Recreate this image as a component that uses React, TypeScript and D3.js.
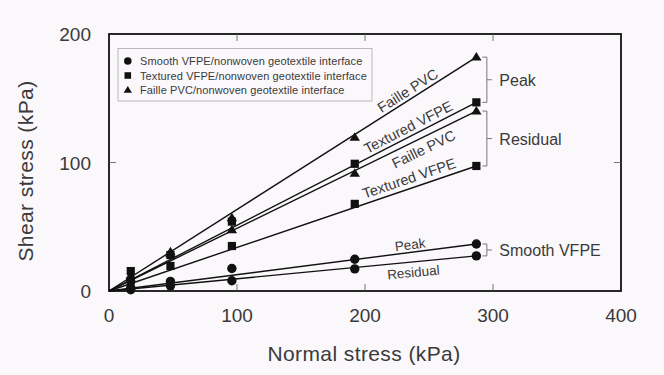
import React from "react";
import * as d3 from "d3";

// ---- Data ----
const normalStress = [17, 48, 96, 192, 287];
const smoothPeak = [2.5, 7.5, 17.5, 24.7, 36.6];
const smoothResidual = [1, 4, 8, 17.2, 27.3];
const texturedPeak = [15.5, 28, 54, 99, 146.8];
const texturedResidual = [8, 19.5, 35, 67.8, 97.3];
const faillePeak = [12, 30.5, 57, 119.6, 182];
const failleResidual = [10, 29, 47.5, 91.6, 140];

const xTicks = [0, 100, 200, 300, 400];
const yTicks = [0, 100, 200];

const legendLabels = [
  "Smooth VFPE/nonwoven geotextile interface",
  "Textured VFPE/nonwoven geotextile interface",
  "Faille PVC/nonwoven geotextile interface",
];

type Shape = "circle" | "square" | "triangle";

const series: {
  values: number[];
  shape: Shape;
  label: string;
  labelX: number;
  labelDy: number;
  labelSize: number;
}[] = [
  { values: faillePeak, shape: "triangle", label: "Faille PVC", labelX: 237, labelDy: -3.5, labelSize: 14.5 },
  { values: texturedPeak, shape: "square", label: "Textured VFPE", labelX: 237, labelDy: -4, labelSize: 14.5 },
  { values: failleResidual, shape: "triangle", label: "Faille PVC", labelX: 242, labelDy: 16, labelSize: 14.5 },
  { values: texturedResidual, shape: "square", label: "Textured VFPE", labelX: 237, labelDy: -5, labelSize: 14.5 },
  { values: smoothPeak, shape: "circle", label: "Peak", labelX: 236, labelDy: -3, labelSize: 13.5 },
  { values: smoothResidual, shape: "circle", label: "Residual", labelX: 237, labelDy: 15, labelSize: 13.5 },
];

const brackets = [
  { top: faillePeak, bottom: texturedPeak, text: "Peak" },
  { top: failleResidual, bottom: texturedResidual, text: "Residual" },
  { top: smoothPeak, bottom: smoothResidual, text: "Smooth VFPE" },
];

const FONT = "'Liberation Sans', Arial, Helvetica, sans-serif";
const INK = "#111";
const TEXT = "#3a3a3a";

function Marker({ shape, cx, cy, s = 1 }: { shape: Shape; cx: number; cy: number; s?: number }) {
  if (shape === "circle") return <circle cx={cx} cy={cy} r={4.7 * s} fill={INK} />;
  if (shape === "square") {
    const h = 4.1 * s;
    return <rect x={cx - h} y={cy - h} width={2 * h} height={2 * h} fill={INK} />;
  }
  const w = 5.2 * s;
  const ht = 8.5 * s;
  return (
    <path
      d={`M${cx},${cy - ht * 0.6}L${cx + w},${cy + ht * 0.4}L${cx - w},${cy + ht * 0.4}Z`}
      fill={INK}
    />
  );
}

export default function App() {
  const W = 664;
  const H = 375;
  const x = d3.scaleLinear().domain([0, 400]).range([109, 621]);
  const y = d3.scaleLinear().domain([0, 200]).range([291, 34]);
  const last = normalStress.length - 1;
  const xEnd = normalStress[last];

  const line = d3
    .line<[number, number]>()
    .x((d) => x(d[0]))
    .y((d) => y(d[1]));

  return (
    <svg
      width={W}
      height={H}
      style={{ position: "absolute", left: 0, top: 0, background: "#faf8fa" }}
      fontFamily={FONT}
    >
      <rect x={0} y={0} width={W} height={H} fill="#faf8fa" />

      {/* fitted envelopes */}
      {series.map((s, i) => (
        <path
          key={"l" + i}
          d={line([
            [0, 0],
            [xEnd, s.values[last]],
          ]) as string}
          fill="none"
          stroke={INK}
          strokeWidth={1.4}
        />
      ))}

      {/* markers */}
      {series.map((s, i) =>
        s.values.map((v, j) => (
          <Marker key={`m${i}-${j}`} shape={s.shape} cx={x(normalStress[j])} cy={y(v)} />
        ))
      )}

      {/* line labels */}
      {series.map((s, i) => {
        const slope = s.values[last] / xEnd;
        const angle =
          (Math.atan2(y(s.values[last]) - y(0), x(xEnd) - x(0)) * 180) / Math.PI;
        const px = x(s.labelX);
        const py = y(slope * s.labelX);
        return (
          <g key={"t" + i} transform={`translate(${px},${py}) rotate(${angle})`}>
            <text
              x={0}
              y={s.labelDy}
              textAnchor="middle"
              fontSize={s.labelSize}
              fill={TEXT}
            >
              {s.label}
            </text>
          </g>
        );
      })}

      {/* brackets */}
      {brackets.map((b, i) => {
        const t = y(b.top[last]);
        const bt = y(b.bottom[last]);
        const m = (t + bt) / 2;
        const x0 = x(xEnd) + 6;
        const x1 = x0 + 4.5;
        return (
          <g key={"b" + i}>
            <path
              d={`M${x0},${t}H${x1}V${bt}H${x0}M${x1},${m}H${x1 + 5}`}
              fill="none"
              stroke="#777"
              strokeWidth={1}
            />
            <text x={x1 + 12.5} y={m + 6} fontSize={16} fill={TEXT}>
              {b.text}
            </text>
          </g>
        );
      })}

      {/* legend */}
      <rect x={118} y={48.5} width={254} height={52.5} fill="#faf8fa" stroke="#aaa" strokeWidth={0.8} />
      {legendLabels.map((l, i) => {
        const cy = 61 + i * 14.5;
        const shape: Shape = (["circle", "square", "triangle"] as Shape[])[i];
        return (
          <g key={"lg" + i}>
            <Marker shape={shape} cx={127.8} cy={cy} s={0.8} />
            <text x={140} y={cy + 4} fontSize={11} fill={TEXT} letterSpacing={0.1}>
              {l}
            </text>
          </g>
        );
      })}

      {/* frame */}
      <rect
        x={x(0)}
        y={y(200)}
        width={x(400) - x(0)}
        height={y(0) - y(200)}
        fill="none"
        stroke={INK}
        strokeWidth={1.8}
      />
      {/* inner ticks */}
      {xTicks.slice(1, -1).map((t) => (
        <g key={"xt" + t}>
          <line x1={x(t)} x2={x(t)} y1={y(0)} y2={y(0) - 7} stroke="#555" strokeWidth={0.8} />
          <line x1={x(t)} x2={x(t)} y1={y(200)} y2={y(200) + 7} stroke="#555" strokeWidth={0.8} />
        </g>
      ))}
      {yTicks.slice(1, -1).map((t) => (
        <g key={"yt" + t}>
          <line x1={x(0)} x2={x(0) + 7} y1={y(t)} y2={y(t)} stroke="#555" strokeWidth={0.8} />
          <line x1={x(400)} x2={x(400) - 7} y1={y(t)} y2={y(t)} stroke="#555" strokeWidth={0.8} />
        </g>
      ))}

      {/* tick labels */}
      {xTicks.map((t) => (
        <text key={"xl" + t} x={x(t)} y={322} textAnchor="middle" fontSize={19} fill={TEXT}>
          {t}
        </text>
      ))}
      {yTicks.map((t) => (
        <text key={"yl" + t} x={91} y={y(t) + 7} textAnchor="end" fontSize={19} fill={TEXT}>
          {t}
        </text>
      ))}

      {/* axis titles */}
      <text x={364} y={361} textAnchor="middle" fontSize={21} fill={TEXT} letterSpacing={0.4}>
        Normal stress (kPa)
      </text>
      <text
        transform={`translate(33,171) rotate(-90)`}
        textAnchor="middle"
        fontSize={21}
        fill={TEXT}
        letterSpacing={0.4}
      >
        Shear stress (kPa)
      </text>
    </svg>
  );
}
